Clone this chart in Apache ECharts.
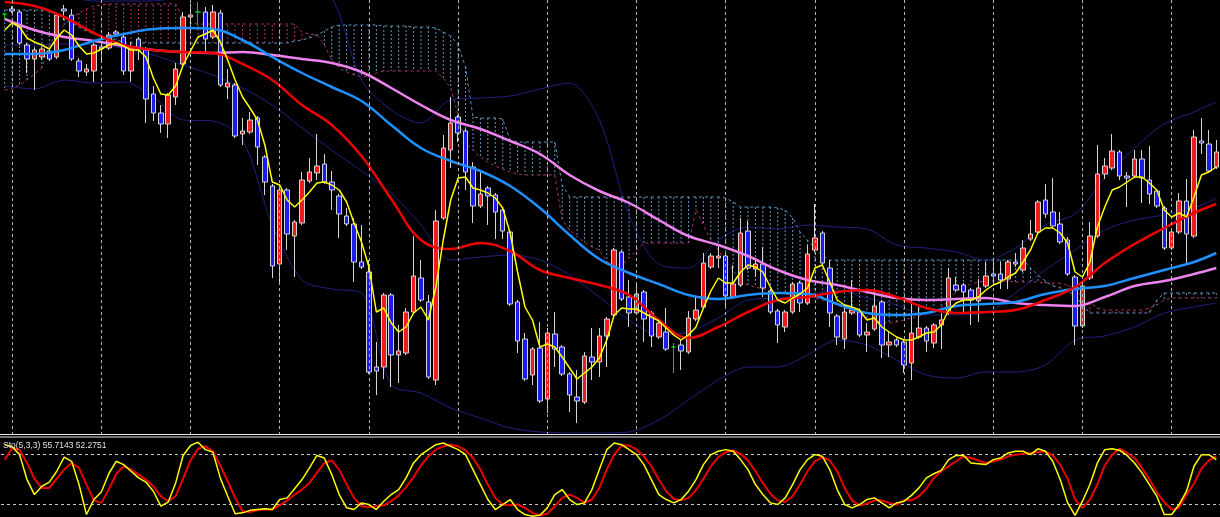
<!DOCTYPE html>
<html><head><meta charset="utf-8">
<script src="https://cdn.jsdelivr.net/npm/echarts@6/dist/echarts.min.js"></script>
<style>html,body{margin:0;padding:0;background:#000;overflow:hidden}#c{width:1220px;height:517px}</style>
</head><body><div id="c"></div>
<script>
// ---- DATA (price in points) ----
// candles: [open, close, low, high]
const ohlc = [
[986,986,981,987],[991,989,987,994],[988,957,955,990],[955,941,927,957],[941,950,910,952],
[943,951,940,953],[949,941,939,951],[943,985,941,987],[991,989,980,995],[985,941,939,991],
[939,929,923,942],[928,931,924,936],[929,955,918,957],[953,951,940,955],[952,965,950,968],
[968,966,964,970],[963,929,925,965],[929,953,918,958],[961,950,940,963],[951,901,877,953],
[906,887,879,914],[887,876,867,895],[876,905,862,907],[903,931,895,937],[936,983,934,988],
[983,985,968,996],[988,988,975,998],[988,961,947,993],[963,988,961,995],[987,915,913,990],
[913,917,901,931],[915,864,862,917],[866,869,855,882],[868,880,866,888],[882,853,835,884],
[843,818,805,845],[814,734,722,816],[736,810,717,813],[810,766,750,812],[764,778,723,780],
[777,820,775,828],[819,828,817,842],[827,834,820,866],[836,818,816,846],[818,810,790,829],
[804,786,762,806],[784,776,774,792],[776,738,718,782],[738,733,731,775],[728,628,626,740],
[633,629,605,658],[633,705,621,707],[705,645,613,707],[645,649,617,675],[647,688,645,692],
[688,724,686,764],[722,700,698,740],[698,623,621,705],[620,779,615,790],[782,852,780,865],
[850,877,832,903],[883,867,858,885],[869,828,810,871],[833,794,777,838],[794,806,792,828],
[812,804,775,814],[805,788,761,807],[790,769,761,792],[768,696,694,770],[698,659,647,700],
[661,621,619,667],[625,651,615,653],[652,599,597,678],[601,667,587,672],[666,651,633,688],
[653,626,624,655],[626,605,588,628],[603,599,577,630],[598,644,596,648],[643,638,620,672],
[638,664,623,672],[664,681,633,683],[685,750,683,752],[748,701,699,750],[703,687,673,720],
[687,706,685,717],[708,681,658,710],[687,664,653,689],[663,677,661,681],[668,651,649,692],
[653,653,627,657],[655,649,630,660],[648,682,646,689],[681,690,679,703],[693,737,691,747],
[733,744,731,747],[742,744,732,755],[744,704,694,746],[703,716,701,735],[715,767,713,782],
[769,732,730,779],[731,736,723,740],[736,712,703,753],[709,688,686,711],[689,675,657,691],
[673,688,668,690],[688,716,686,718],[717,697,688,719],[697,746,695,755],[750,762,748,796],
[767,737,735,769],[732,687,673,740],[684,663,655,686],[661,688,651,693],[687,690,685,720],
[688,665,663,690],[665,668,648,677],[671,694,669,711],[698,655,642,700],[655,658,643,668],
[660,655,653,662],[658,635,627,660],[637,667,620,697],[663,672,661,693],[672,659,648,674],
[657,675,652,677],[675,680,651,687],[687,722,685,732],[715,710,708,723],[715,708,686,717],
[710,700,675,712],[699,712,678,721],[714,724,712,738],[726,724,715,738],[726,720,711,738],
[721,738,711,740],[738,736,733,747],[730,752,728,760],[761,766,759,780],[768,798,766,800],
[800,786,782,816],[788,774,772,822],[776,758,756,788],[760,726,724,763],[723,674,655,725],
[674,714,672,716],[722,764,720,778],[764,826,762,855],[826,834,821,842],[832,849,830,866],
[848,824,820,850],[824,822,793,828],[824,841,822,850],[841,822,797,850],[820,806,796,854],
[809,794,792,811],[792,752,750,794],[752,768,750,770],[768,799,766,807],[799,766,737,821],
[764,863,762,870],[859,857,846,882],[856,829,827,870],[833,848,831,860]
];

// fast MA (yellow), one value per bar
const fastMA = [
970,977,973,962,958,955,951,962,970,965, 954,946,947,951,955,957,954,950,950,943,
922,906,905,914,935,949,963,966,970,958, 940,920,903,892,880,855,818,815,800,793,
800,808,817,818,815,810,798,777,758,733, 688,692,677,668,673,687,693,680,713,760,
800,822,823,812,810,807,802,792,767,728, 693,680,653,656,653,643,632,621,627,633,
642,660,685,692,691,691,687,683,679,672, 665,660,665,673,692,709,722,717,717,728,
735,733,728,713,700,697,702,706,712,732, 735,718,700,695,693,690,680,682,673,668,
663,660,660,663,667,668,675,690,697,700, 700,703,710,715,718,723,727,738,750,767,
772,772,767,757,728,723,738,773,793,810, 813,818,823,823,817,810,790,783,787,783,
803,825,828,833
];

// slower lines sampled every 4 bars
const sampleBars = [0,4,8,12,16,20,24,28,32,36,40,44,48,52,56,60,64,68,72,76,80,84,88,92,96,100,104,108,112,116,120,124,128,132,136,140,144,148,152,156,160,163];
const redMA  = [998,994,983,967,955,950,948,947,936,920,895,875,844,801,760,751,757,749,730,722,715,705,680,662,673,688,700,703,708,710,703,692,687,688,690,700,713,737,756,772,787,796];
const blueMA = [946,946,950,959,966,971,972,971,960,943,927,913,899,875,852,839,829,814,792,765,741,727,716,705,701,705,707,706,696,687,685,687,694,696,698,706,711,714,722,730,738,747];
const pinkMA = [981,970,963,959,954,950,948,947,948,945,941,937,928,912,895,880,871,859,846,825,809,797,780,764,755,744,730,720,715,708,702,700,701,702,697,695,694,703,714,719,726,732];
const bbUpper  = [1015,1012,1005,999,999,999,1005,1015,1020,1020,1015,1002,920,890,877,900,902,904,911,917,880,785,736,732,760,773,771,775,773,771,755,752,748,740,752,775,786,822,852,876,888,898];
const bbMiddle = [955,955,956,955,952,945,935,925,912,895,872,850,829,807,775,740,743,745,740,725,703,680,665,668,682,700,702,705,710,702,695,685,685,687,707,730,750,770,780,785,792,802];
const bbLower  = [914,911,920,917,918,903,880,879,860,775,720,711,707,615,607,592,582,572,568,567,567,568,580,600,620,633,633,645,660,655,640,625,622,628,628,635,660,664,673,687,693,697];

// Ichimoku cloud spans, one value per bar
const spanA = [
990,990,990,990,990,990,989,985,981,977, 973,969,966,964,962,960,958,957,957,957,
957,957,957,957,957,957,957,957,957,957, 957,957,957,957,957,957,957,957,957,959,
960,962,965,969,973,975,975,975,975,975, 975,974,974,974,974,973,973,973,972,968,
964,955,933,883,882,882,882,881,860,858, 858,858,858,858,858,815,803,803,803,803,
803,803,803,803,803,803,803,803,803,803, 803,803,803,803,803,803,803,802,798,793,
793,793,793,793,792,790,782,768,760,752, 744,740,740,740,740,740,740,740,740,740,
740,740,740,740,740,740,740,740,740,740, 740,740,740,740,740,740,740,740,732,725,
719,714,712,710,704,695,687,687,687,687, 687,687,687,687,687,700,707,707,707,707,
707,707,707,707
];
const spanB = [
910,911,915,920,926,932,955,967,975,982, 987,991,994,995,996,996,996,996,996,996,
996,996,996,996,982,977,976,976,976,976, 976,976,976,976,976,976,976,976,976,976,
968,966,965,955,940,932,928,925,923,924, 927,929,929,929,929,929,929,929,929,922,
912,885,857,850,843,838,834,831,828,826, 825,825,825,825,825,780,770,763,758,753,
750,738,736,735,742,750,757,757,757,757, 757,757,757,790,775,760,750,738,730,717,
715,713,711,709,707,706,705,704,703,702, 700,698,695,692,688,685,682,680,678,677,
678,680,682,684,687,689,692,700,708,713, 716,718,719,719,719,719,718,718,718,718,
717,717,717,715,710,703,697,692,690,690, 690,690,690,690,692,695,700,702,702,702,
702,702,702,702
];

// Stochastic (5,3,3)
const stochK = [
92,89.5,80,50,32,42,47,60,77,72, 44,8,26,35,57,72,68,60,52,47,
36,18,23,46,79,91,95,86,83,52, 30,9,10,13,14,15,14,26,28,39,
50,64,79,76,56,32,16,14,22,20, 14,24,32,38,52,70,80,86,92,94,
90,86,80,62,44,26,14,20,26,14, 8,6,7,16,32,38,26,20,22,38,
62,86,94,92,86,80,68,50,32,26, 22,26,36,50,68,80,84,86,84,74,
62,44,32,22,20,28,44,62,74,80, 78,62,38,20,16,20,26,28,22,16,
22,24,31,40,52,57,61,74,79,79, 70,69,68,74,76,82,84,84,80,87,
84,72,50,22,7,24,44,70,86,87, 85,79,70,58,44,30,8,8,20,36,
66,80,80,74
];
const stochD = [
74,88,86,70,51,40,40,51,62,70, 64,44,25,22,38,57,66,62,56,50,
42,30,24,30,51,73,87,90,84,67, 48,28,12,11,13,14,14,19,25,32,
38,46,58,70,73,62,44,28,18,17, 18,19,24,31,41,53,67,78,86,90,
92,90,85,76,62,44,28,20,19,20, 16,10,7,9,18,28,32,28,22,26,
40,62,80,91,91,86,78,66,50,36, 27,25,28,37,51,66,77,83,85,81,
73,60,46,33,25,23,30,44,60,72, 77,73,60,40,25,19,21,25,25,22,
20,25,25,30,39,52,60,66,72,78, 76,73,70,72,74,78,80,81,82,83,
84,79,68,51,26,16,26,44,67,80, 87,82,76,64,50,35,23,14,16,32,
45,63,73,78
];
const stochLevels = [80, 20];
const stochTitle = 'Sto(5,3,3) 55.7143 52.2751';

// H2 bar times (day separators fall on 00:00 bars)
const firstBarTime = Date.UTC(2019, 2, 10, 22, 0);
const barHours = 2;

// ---- BUILD ----
const pad = n => String(n).padStart(2, '0');
const categories = ohlc.map((_, i) => {
  const d = new Date(firstBarTime + i * barHours * 3600000);
  return d.getUTCFullYear() + '.' + pad(d.getUTCMonth() + 1) + '.' + pad(d.getUTCDate()) + ' ' + pad(d.getUTCHours()) + ':' + pad(d.getUTCMinutes());
});
const separators = categories.filter(c => c.endsWith(' 00:00'));

const C = {
  up: '#ee1c1c', down: '#1c1cee', outline: '#d4d4d4', doji: '#00d000',
  yellow: '#ffff00', red: '#ee0000', blue: '#1e90ff', pink: '#ee82ee',
  bb: '#20207e', spanA: '#5b96c0', spanB: '#a8306e', grid: '#b4b4b4'
};

const pairs = arr => sampleBars.map((b, k) => [b, arr[k]]);
const candleData = ohlc.map(v => v[0] === v[1]
  ? { value: v, itemStyle: { borderColor: C.doji, borderColor0: C.doji } }
  : v);
const cloudData = spanA.map((a, i) => [i, a, spanB[i]]);

const chart = echarts.init(document.getElementById('c'), null, { renderer: 'canvas' });
const lineBase = { type: 'line', showSymbol: false, symbol: 'none', silent: true, animation: false };

chart.setOption({
  backgroundColor: '#000000',
  animation: false,
  grid: [
    { left: 1, right: -3.6, top: 0, height: 435 },
    { left: 1, right: -3.6, top: 438, bottom: 0 }
  ],
  xAxis: [
    { type: 'category', data: categories, gridIndex: 0, boundaryGap: true, show: false },
    { type: 'category', data: categories, gridIndex: 1, boundaryGap: true, show: false }
  ],
  yAxis: [
    { type: 'value', gridIndex: 0, min: 565, max: 1000, show: false, splitLine: { show: false } },
    { type: 'value', gridIndex: 1, min: 5, max: 100, show: false, splitLine: { show: false } }
  ],
  graphic: [
    { type: 'line', shape: { x1: 0, y1: 434.5, x2: 1220, y2: 434.5 }, style: { stroke: '#e6e6e6', lineWidth: 1 }, z: 100 },
    { type: 'line', shape: { x1: 0, y1: 437, x2: 1220, y2: 437 }, style: { stroke: '#e6e6e6', lineWidth: 1 }, z: 100 },
    { type: 'text', left: 3, top: 441, z: 100,
      style: { text: stochTitle, fill: '#e0e0e0', font: '8.5px "Liberation Sans", Arial, sans-serif' } }
  ],
  series: [
    // day separators + cloud hatch
    {
      type: 'custom', xAxisIndex: 0, yAxisIndex: 0, z: 1, silent: true, clip: true,
      data: cloudData,
      encode: { x: 0, y: [1, 2] },
      renderItem: function (params, api) {
        const i = api.value(0), a = api.value(1), b = api.value(2);
        const p1 = api.coord([i, a]), p2 = api.coord([i, b]);
        return { type: 'line', shape: { x1: p1[0], y1: p1[1], x2: p2[0], y2: p2[1] },
          style: { stroke: a >= b ? C.spanA : C.spanB, lineWidth: 1, lineDash: [2, 2] } };
      },
      markLine: {
        silent: true, symbol: 'none', label: { show: false },
        lineStyle: { color: C.grid, type: [3, 3], width: 1 },
        data: separators.map(c => ({ xAxis: c }))
      }
    },
    Object.assign({}, lineBase, { name: 'SpanA', data: spanA, z: 2, lineStyle: { color: C.spanA, width: 1, type: [3, 3] } }),
    Object.assign({}, lineBase, { name: 'SpanB', data: spanB, z: 2, lineStyle: { color: C.spanB, width: 1, type: [3, 3] } }),
    Object.assign({}, lineBase, { name: 'BB upper', data: pairs(bbUpper), smooth: 0.3, z: 2, lineStyle: { color: C.bb, width: 1 } }),
    Object.assign({}, lineBase, { name: 'BB middle', data: pairs(bbMiddle), smooth: 0.3, z: 2, lineStyle: { color: C.bb, width: 1 } }),
    Object.assign({}, lineBase, { name: 'BB lower', data: pairs(bbLower), smooth: 0.3, z: 2, lineStyle: { color: C.bb, width: 1 } }),
    {
      type: 'candlestick', name: 'Price', xAxisIndex: 0, yAxisIndex: 0, z: 3, silent: true,
      barWidth: 5, data: candleData,
      itemStyle: { color: C.up, color0: C.down, borderColor: C.outline, borderColor0: C.outline, borderWidth: 1 }
    },
    Object.assign({}, lineBase, { name: 'MA slow', data: pairs(pinkMA), smooth: 0.4, z: 4, lineStyle: { color: C.pink, width: 2.5 } }),
    Object.assign({}, lineBase, { name: 'MA mid', data: pairs(blueMA), smooth: 0.4, z: 4, lineStyle: { color: C.blue, width: 2.5 } }),
    Object.assign({}, lineBase, { name: 'MA', data: pairs(redMA), smooth: 0.4, z: 4, lineStyle: { color: C.red, width: 2.5 } }),
    Object.assign({}, lineBase, { name: 'MA fast', data: fastMA, z: 5, lineStyle: { color: C.yellow, width: 1.5 } }),
    Object.assign({}, lineBase, { name: '%D', data: stochD, xAxisIndex: 1, yAxisIndex: 1, z: 5,
      lineStyle: { color: C.red, width: 2 },
      markLine: { silent: true, symbol: 'none', label: { show: false },
        lineStyle: { color: '#c8c8c8', type: [3, 3], width: 1 },
        data: stochLevels.map(v => ({ yAxis: v })) } }),
    Object.assign({}, lineBase, { name: '%K', data: stochK, xAxisIndex: 1, yAxisIndex: 1, z: 6, lineStyle: { color: C.yellow, width: 1.5 } })
  ]
});
</script></body></html>
